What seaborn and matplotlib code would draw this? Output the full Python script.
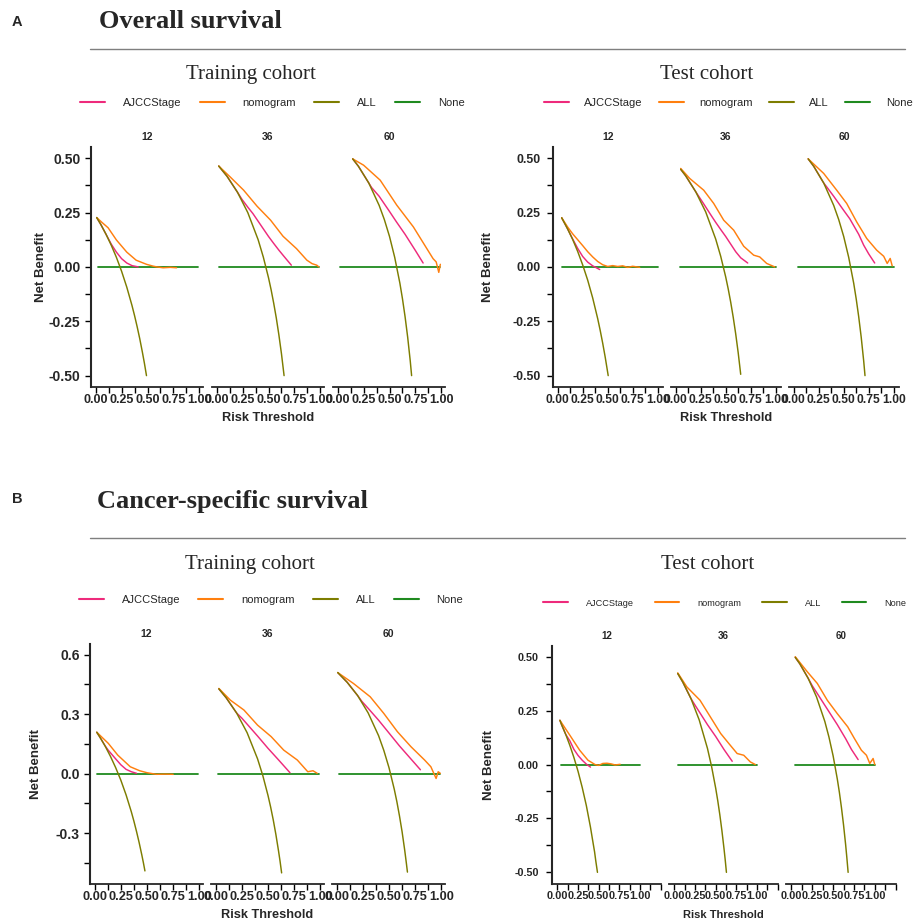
import matplotlib
matplotlib.use("Agg")
import matplotlib.pyplot as plt
import seaborn as sns
import pandas as pd
from matplotlib.lines import Line2D
from matplotlib.ticker import FixedLocator, MultipleLocator, FormatStrFormatter

# ---------------- data ----------------
MODELS = ["AJCCStage", "nomogram", "ALL", "None"]
FACETS = ["12", "36", "60"]

# A – Overall survival, training cohort
OS_TR_12_ALL_X = [0.01, 0.05, 0.10, 0.15, 0.20, 0.25, 0.30, 0.35, 0.375, 0.40, 0.425, 0.45, 0.47, 0.49]
OS_TR_12_ALL_Y = [0.227, 0.195, 0.150, 0.100, 0.044, -0.020, -0.093, -0.177, -0.224, -0.275, -0.330, -0.391, -0.443, -0.500]
OS_TR_12_AJ_X = [0.01, 0.05, 0.10, 0.15, 0.20, 0.25, 0.30, 0.35, 0.41]
OS_TR_12_AJ_Y = [0.227, 0.195, 0.150, 0.105, 0.068, 0.038, 0.018, 0.006, 0.0]
OS_TR_12_NM_X = [0.01, 0.06, 0.12, 0.20, 0.30, 0.39, 0.49, 0.55, 0.59, 0.65, 0.72, 0.78]
OS_TR_12_NM_Y = [0.227, 0.205, 0.180, 0.124, 0.068, 0.031, 0.012, 0.004, 0.0, -0.004, -0.002, -0.004]

OS_TR_36_ALL_X = [0.02, 0.10, 0.20, 0.30, 0.40, 0.45, 0.50, 0.525, 0.55, 0.575, 0.60, 0.625, 0.65]
OS_TR_36_ALL_Y = [0.464, 0.417, 0.344, 0.250, 0.125, 0.045, -0.050, -0.105, -0.167, -0.235, -0.313, -0.400, -0.500]
OS_TR_36_AJ_X = [0.02, 0.10, 0.20, 0.245, 0.30, 0.35, 0.40, 0.45, 0.50, 0.55, 0.60, 0.65, 0.72]
OS_TR_36_AJ_Y = [0.464, 0.417, 0.344, 0.310, 0.275, 0.245, 0.210, 0.175, 0.140, 0.108, 0.077, 0.048, 0.008]
OS_TR_36_NM_X = [0.02, 0.13, 0.26, 0.39, 0.52, 0.64, 0.77, 0.87, 0.92, 0.965, 0.985]
OS_TR_36_NM_Y = [0.464, 0.414, 0.353, 0.279, 0.215, 0.141, 0.084, 0.031, 0.015, 0.008, 0.0]

OS_TR_60_ALL_X = [0.145, 0.20, 0.30, 0.40, 0.45, 0.50, 0.55, 0.60, 0.625, 0.65, 0.675, 0.70, 0.713]
OS_TR_60_ALL_Y = [0.497, 0.463, 0.386, 0.283, 0.218, 0.140, 0.044, -0.075, -0.147, -0.229, -0.323, -0.433, -0.500]
OS_TR_60_AJ_X = [0.145, 0.20, 0.30, 0.327, 0.40, 0.50, 0.567, 0.65, 0.75, 0.824]
OS_TR_60_AJ_Y = [0.497, 0.463, 0.386, 0.365, 0.325, 0.255, 0.207, 0.150, 0.075, 0.018]
OS_TR_60_NM_X = [0.145, 0.25, 0.41, 0.57, 0.73, 0.86, 0.92, 0.95, 0.975, 0.99]
OS_TR_60_NM_Y = [0.497, 0.468, 0.399, 0.284, 0.184, 0.084, 0.038, 0.023, -0.025, 0.012]

# A – Overall survival, test cohort
OS_TE_12_ALL_X = [0.04, 0.10, 0.15, 0.20, 0.25, 0.30, 0.35, 0.40, 0.425, 0.45, 0.475, 0.505]
OS_TE_12_ALL_Y = [0.226, 0.174, 0.126, 0.071, 0.009, -0.061, -0.143, -0.238, -0.292, -0.351, -0.415, -0.500]
OS_TE_12_AJ_X = [0.04, 0.10, 0.15, 0.20, 0.25, 0.30, 0.35, 0.42]
OS_TE_12_AJ_Y = [0.226, 0.174, 0.128, 0.085, 0.048, 0.022, 0.005, -0.012]
OS_TE_12_NM_X = [0.04, 0.10, 0.15, 0.20, 0.25, 0.30, 0.35, 0.40, 0.45, 0.50, 0.55, 0.60, 0.65, 0.70, 0.75, 0.82]
OS_TE_12_NM_Y = [0.226, 0.183, 0.152, 0.125, 0.098, 0.070, 0.046, 0.025, 0.010, 0.002, 0.006, 0.002, 0.005, -0.002, 0.003, -0.002]

OS_TE_36_ALL_X = [0.05, 0.10, 0.20, 0.30, 0.40, 0.45, 0.50, 0.525, 0.55, 0.575, 0.60, 0.625, 0.65]
OS_TE_36_ALL_Y = [0.449, 0.419, 0.346, 0.253, 0.128, 0.049, -0.046, -0.101, -0.162, -0.231, -0.308, -0.395, -0.494]
OS_TE_36_AJ_X = [0.05, 0.10, 0.20, 0.28, 0.35, 0.40, 0.45, 0.50, 0.55, 0.60, 0.65, 0.72]
OS_TE_36_AJ_Y = [0.449, 0.419, 0.346, 0.290, 0.240, 0.205, 0.172, 0.140, 0.105, 0.070, 0.042, 0.018]
OS_TE_36_NM_X = [0.05, 0.14, 0.28, 0.38, 0.48, 0.58, 0.68, 0.78, 0.84, 0.91, 0.99]
OS_TE_36_NM_Y = [0.453, 0.407, 0.353, 0.292, 0.215, 0.169, 0.095, 0.054, 0.046, 0.016, 0.0]

OS_TE_60_ALL_X = [0.145, 0.20, 0.30, 0.40, 0.45, 0.50, 0.55, 0.60, 0.625, 0.65, 0.675, 0.70, 0.713]
OS_TE_60_ALL_Y = [0.497, 0.463, 0.386, 0.283, 0.218, 0.140, 0.044, -0.075, -0.147, -0.229, -0.323, -0.433, -0.500]
OS_TE_60_AJ_X = [0.145, 0.20, 0.30, 0.33, 0.40, 0.50, 0.56, 0.65, 0.70, 0.75, 0.81]
OS_TE_60_AJ_Y = [0.497, 0.463, 0.386, 0.368, 0.325, 0.260, 0.222, 0.150, 0.100, 0.060, 0.018]
OS_TE_60_NM_X = [0.145, 0.30, 0.43, 0.53, 0.63, 0.73, 0.83, 0.90, 0.935, 0.965, 0.985]
OS_TE_60_NM_Y = [0.497, 0.430, 0.353, 0.292, 0.207, 0.131, 0.077, 0.049, 0.016, 0.039, 0.005]

# B – Cancer-specific survival, training cohort
CSS_TR_12_ALL_X = [0.02, 0.05, 0.10, 0.15, 0.20, 0.25, 0.30, 0.35, 0.375, 0.40, 0.425, 0.45, 0.465, 0.48]
CSS_TR_12_ALL_Y = [0.209, 0.184, 0.139, 0.088, 0.031, -0.033, -0.107, -0.192, -0.240, -0.292, -0.348, -0.409, -0.448, -0.490]
CSS_TR_12_AJ_X = [0.02, 0.05, 0.10, 0.13, 0.20, 0.25, 0.30, 0.35, 0.40]
CSS_TR_12_AJ_Y = [0.209, 0.184, 0.140, 0.118, 0.075, 0.045, 0.022, 0.010, 0.002]
CSS_TR_12_NM_X = [0.02, 0.13, 0.22, 0.34, 0.43, 0.50, 0.59, 0.67, 0.75]
CSS_TR_12_NM_Y = [0.209, 0.153, 0.094, 0.035, 0.015, 0.005, -0.003, -0.002, -0.003]

CSS_TR_36_ALL_X = [0.03, 0.10, 0.20, 0.30, 0.40, 0.45, 0.50, 0.525, 0.55, 0.575, 0.60, 0.615, 0.63]
CSS_TR_36_ALL_Y = [0.428, 0.383, 0.306, 0.207, 0.075, -0.009, -0.110, -0.168, -0.233, -0.306, -0.388, -0.441, -0.500]
CSS_TR_36_AJ_X = [0.03, 0.10, 0.20, 0.25, 0.30, 0.40, 0.50, 0.60, 0.71]
CSS_TR_36_AJ_Y = [0.428, 0.383, 0.306, 0.280, 0.250, 0.190, 0.128, 0.070, 0.005]
CSS_TR_36_NM_X = [0.03, 0.14, 0.27, 0.40, 0.53, 0.65, 0.78, 0.88, 0.93, 0.97]
CSS_TR_36_NM_Y = [0.430, 0.371, 0.321, 0.245, 0.187, 0.119, 0.069, 0.010, 0.015, 0.002]

CSS_TR_60_ALL_X = [0.01, 0.10, 0.20, 0.30, 0.40, 0.45, 0.50, 0.55, 0.575, 0.60, 0.625, 0.65, 0.665, 0.676]
CSS_TR_60_ALL_Y = [0.510, 0.461, 0.394, 0.307, 0.192, 0.118, 0.030, -0.078, -0.141, -0.213, -0.293, -0.386, -0.448, -0.496]
CSS_TR_60_AJ_X = [0.01, 0.10, 0.20, 0.24, 0.30, 0.40, 0.50, 0.60, 0.70, 0.80]
CSS_TR_60_AJ_Y = [0.510, 0.461, 0.394, 0.365, 0.330, 0.270, 0.205, 0.140, 0.080, 0.020]
CSS_TR_60_NM_X = [0.01, 0.16, 0.32, 0.45, 0.58, 0.71, 0.84, 0.90, 0.95, 0.97, 0.99]
CSS_TR_60_NM_Y = [0.510, 0.455, 0.388, 0.304, 0.212, 0.136, 0.069, 0.035, -0.024, 0.010, 0.002]

# B – Cancer-specific survival, test cohort
CSS_TE_12_ALL_X = [0.03, 0.05, 0.10, 0.15, 0.20, 0.25, 0.30, 0.35, 0.375, 0.40, 0.425, 0.45, 0.465, 0.485]
CSS_TE_12_ALL_Y = [0.205, 0.185, 0.140, 0.089, 0.032, -0.032, -0.106, -0.190, -0.240, -0.290, -0.348, -0.405, -0.448, -0.500]
CSS_TE_12_AJ_X = [0.03, 0.05, 0.10, 0.15, 0.20, 0.25, 0.30, 0.35, 0.40]
CSS_TE_12_AJ_Y = [0.205, 0.185, 0.140, 0.110, 0.070, 0.042, 0.020, 0.002, -0.012]
CSS_TE_12_NM_X = [0.03, 0.15, 0.27, 0.37, 0.455, 0.50, 0.55, 0.60, 0.65, 0.70, 0.76]
CSS_TE_12_NM_Y = [0.205, 0.136, 0.066, 0.020, 0.0, -0.004, 0.005, 0.006, 0.003, -0.002, 0.001]

CSS_TE_36_ALL_X = [0.04, 0.10, 0.20, 0.30, 0.40, 0.45, 0.50, 0.525, 0.55, 0.575, 0.60, 0.615, 0.63]
CSS_TE_36_ALL_Y = [0.422, 0.383, 0.306, 0.207, 0.075, -0.009, -0.110, -0.168, -0.233, -0.306, -0.388, -0.441, -0.500]
CSS_TE_36_AJ_X = [0.04, 0.10, 0.20, 0.25, 0.30, 0.40, 0.50, 0.60, 0.70]
CSS_TE_36_AJ_Y = [0.422, 0.383, 0.306, 0.275, 0.245, 0.185, 0.130, 0.070, 0.015]
CSS_TE_36_NM_X = [0.04, 0.15, 0.31, 0.435, 0.56, 0.66, 0.76, 0.84, 0.92, 0.98]
CSS_TE_36_NM_Y = [0.425, 0.360, 0.298, 0.221, 0.144, 0.097, 0.051, 0.043, 0.012, 0.0]

CSS_TE_60_ALL_X = [0.045, 0.10, 0.20, 0.30, 0.40, 0.45, 0.50, 0.55, 0.575, 0.60, 0.625, 0.65, 0.665, 0.68]
CSS_TE_60_ALL_Y = [0.497, 0.467, 0.400, 0.314, 0.200, 0.127, 0.040, -0.067, -0.129, -0.200, -0.280, -0.371, -0.433, -0.500]
CSS_TE_60_AJ_X = [0.045, 0.10, 0.20, 0.25, 0.35, 0.45, 0.55, 0.65, 0.72, 0.80]
CSS_TE_60_AJ_Y = [0.497, 0.467, 0.400, 0.365, 0.305, 0.245, 0.185, 0.120, 0.070, 0.023]
CSS_TE_60_NM_X = [0.045, 0.19, 0.31, 0.43, 0.55, 0.675, 0.755, 0.84, 0.90, 0.94, 0.98, 1.0]
CSS_TE_60_NM_Y = [0.500, 0.430, 0.376, 0.298, 0.236, 0.175, 0.121, 0.066, 0.043, 0.005, 0.028, 0.0]

NONE_TRAIN_X = [0.02, 0.99]
NONE_TEST_X = [0.04, 1.00]
NONE_Y = [0.0, 0.0]

A_YTICKS = [-0.50, -0.25, 0.00, 0.25, 0.50]
B_TRAIN_YTICKS = [-0.3, 0.0, 0.3, 0.6]
XTICKS = [0.00, 0.25, 0.50, 0.75, 1.00]

# ---------------- styling ----------------
sns.set_style("ticks")
plt.rcParams["font.family"] = ["Liberation Sans", "DejaVu Sans"]
plt.rcParams["font.weight"] = "bold"
plt.rcParams["axes.unicode_minus"] = False

COLORS = {"AJCCStage": "#EE2A7B", "nomogram": "#FF7F0E", "ALL": "#7D7D00", "None": "#1F8A1F"}
W, H = 916, 924
fig = plt.figure(figsize=(W / 100, H / 100), dpi=100)


def frame(xs_ys):
    rows = []
    for model, xs, ys in xs_ys:
        for x, y in zip(xs, ys):
            rows.append({"model": model, "pt": x, "nb": y})
    return pd.DataFrame(rows)


def facet_data(prefix, f, none_x):
    g = globals()
    return frame([
        ("None", none_x, NONE_Y),
        ("AJCCStage", g[f"{prefix}_{f}_AJ_X"], g[f"{prefix}_{f}_AJ_Y"]),
        ("nomogram", g[f"{prefix}_{f}_NM_X"], g[f"{prefix}_{f}_NM_Y"]),
        ("ALL", g[f"{prefix}_{f}_ALL_X"], g[f"{prefix}_{f}_ALL_Y"]),
    ])


PANELS = [
    dict(prefix="OS_TR", none=NONE_TRAIN_X, facets=[(91, 203), (212, 324), (333, 445)], top=146.7, bot=386.7,
         xlim=(-0.045, 1.035), ylim=(-0.551, 0.553), yt=A_YTICKS, ymin=0.125, yfmt="%.2f",
         yts=10, xts=9.0, lab=9.2, ypad=3.5, ylab_x=47, leg=(272.5, 103), style="wide"),
    dict(prefix="OS_TE", none=NONE_TEST_X, facets=[(553, 663), (671, 781), (789, 899)], top=146.7, bot=386.7,
         xlim=(-0.047, 1.053), ylim=(-0.551, 0.553), yt=A_YTICKS, ymin=0.125, yfmt="%.2f",
         yts=8.8, xts=8.7, lab=9.2, ypad=5, ylab_x=494, leg=(728, 103), style="mid"),
    dict(prefix="CSS_TR", none=NONE_TRAIN_X, facets=[(90, 203), (211, 324), (332, 445)], top=644, bot=884,
         xlim=(-0.045, 1.035), ylim=(-0.556, 0.654), yt=B_TRAIN_YTICKS, ymin=0.15, yfmt="%.1f",
         yts=10, xts=9.2, lab=9.2, ypad=3.5, ylab_x=42, leg=(271, 600), style="wide"),
    dict(prefix="CSS_TE", none=NONE_TEST_X, facets=[(552, 661), (669, 778), (786, 896)], top=645.7, bot=884,
         xlim=(-0.066, 1.255), ylim=(-0.554, 0.551), yt=A_YTICKS, ymin=0.125, yfmt="%.2f",
         yts=7.8, xts=7.9, lab=8, ypad=5.5, ylab_x=495, leg=(725, 603), style="narrow"),
]

LEGEND_STYLES = {
    "wide": (8, dict(handlelength=2.25, handletextpad=1.6, columnspacing=1.65)),
    "mid": (8, dict(handlelength=2.25, handletextpad=1.4, columnspacing=1.45)),
    "narrow": (6.6, dict(handlelength=2.7, handletextpad=2.0, columnspacing=2.2)),
}

for P in PANELS:
    for i, (x0, x1) in enumerate(P["facets"]):
        ax = fig.add_axes([x0 / W, 1 - P["bot"] / H, (x1 - x0) / W, (P["bot"] - P["top"]) / H])
        df = facet_data(P["prefix"], FACETS[i], P["none"])
        sns.lineplot(data=df[df.model == "None"], x="pt", y="nb", color=COLORS["None"],
                     estimator=None, sort=False, linewidth=1.3, ax=ax, legend=False)
        sns.lineplot(data=df[df.model != "None"], x="pt", y="nb", hue="model",
                     hue_order=["AJCCStage", "nomogram", "ALL"], palette=COLORS,
                     estimator=None, sort=False, linewidth=1.05, ax=ax, legend=False)
        ax.set_xlim(*P["xlim"])
        ax.set_ylim(*P["ylim"])
        ax.set_facecolor("white")
        for s in ["top", "right"]:
            ax.spines[s].set_visible(False)
        ax.spines["bottom"].set_linewidth(1.3)
        ax.spines["left"].set_linewidth(1.5)
        ax.xaxis.set_major_locator(FixedLocator(XTICKS))
        ax.xaxis.set_minor_locator(MultipleLocator(0.125))
        ax.xaxis.set_major_formatter(FormatStrFormatter("%.2f"))
        ax.tick_params(axis="x", which="both", length=4, width=1.0, pad=1.2, labelsize=P["xts"], color="black")
        ax.set_title(FACETS[i], fontsize=7 if P["style"] == "narrow" else 7.5, fontweight="bold", pad=5)
        if i == 0:
            ax.yaxis.set_major_locator(FixedLocator(P["yt"]))
            ax.yaxis.set_minor_locator(MultipleLocator(P["ymin"]))
            ax.yaxis.set_major_formatter(FormatStrFormatter(P["yfmt"]))
            ax.tick_params(axis="y", which="both", length=4, width=1.0, pad=P["ypad"],
                           labelsize=P["yts"], color="black")
            ax.set_ylabel("Net Benefit", fontsize=9.5, fontweight="bold")
            ax.yaxis.set_label_coords((P["ylab_x"] - x0) / (x1 - x0), 0.5)
        else:
            ax.spines["left"].set_visible(False)
            ax.tick_params(axis="y", which="both", left=False, labelleft=False)
            ax.set_ylabel("")
        if i == 1:
            ax.set_xlabel("Risk Threshold", fontsize=P["lab"], fontweight="bold")
            ax.xaxis.set_label_coords(0.5, -(25.5) / (P["bot"] - P["top"]))
        else:
            ax.set_xlabel("")

    handles = [Line2D([], [], color=COLORS[m], lw=1.5) for m in MODELS]
    size, kw = LEGEND_STYLES[P["style"]]
    fig.legend(handles, MODELS, loc="center", bbox_to_anchor=(P["leg"][0] / W, 1 - P["leg"][1] / H),
               ncol=4, frameon=False, prop={"size": size, "weight": "normal"}, borderpad=0.1, **kw)

# ---------------- titles ----------------
SERIF = ["Liberation Serif", "DejaVu Serif"]
fig.text(11.7 / W, 1 - 26 / H, "A", fontsize=10.5, fontweight="bold", ha="left", va="baseline")
fig.text(99 / W, 1 - 28.5 / H, "Overall survival", family=SERIF, fontsize=19, fontweight="bold",
         ha="left", va="baseline")
fig.text(11.7 / W, 1 - 503 / H, "B", fontsize=10.5, fontweight="bold", ha="left", va="baseline")
fig.text(97 / W, 1 - 508 / H, "Cancer-specific survival", family=SERIF, fontsize=19, fontweight="bold",
         ha="left", va="baseline")
for y in (48.5, 538):
    fig.add_artist(Line2D([90 / W, 905 / W], [1 - y / H, 1 - y / H], color="#7f7f7f", lw=1.0))
for cx, y, t in [(250.5, 79, "Training cohort"), (707, 79, "Test cohort"),
                 (250, 569, "Training cohort"), (708, 569, "Test cohort")]:
    fig.text(cx / W, 1 - y / H, t, family=SERIF, fontsize=15, fontweight="normal", ha="center", va="baseline")

fig.savefig("out.png", dpi=100, facecolor="white")
